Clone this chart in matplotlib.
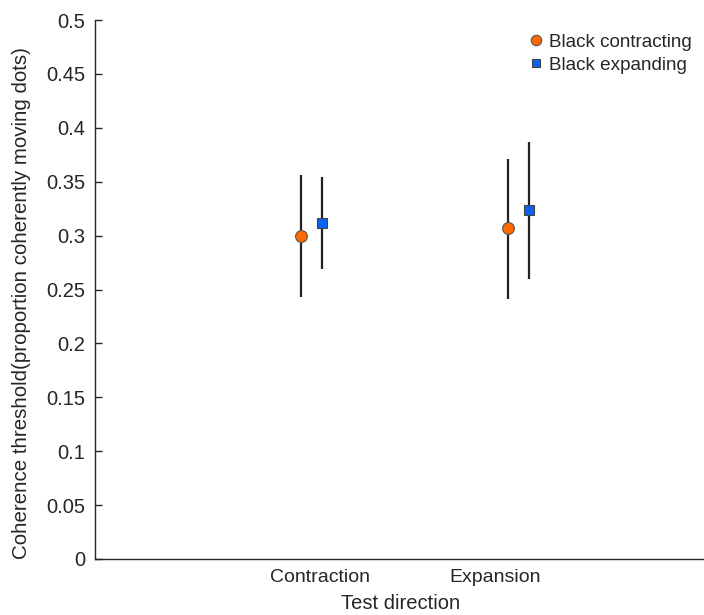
import matplotlib.pyplot as plt
from matplotlib.lines import Line2D

plt.rcParams['font.family'] = ['Liberation Sans', 'DejaVu Sans']

# ------------------------
# Data
# ------------------------
categories = ["Contraction", "Expansion"]
tick_pos = [1, 2]

contract_x = [0.89, 2.07]
contract_mean = [0.300, 0.307]
contract_lo = [0.243, 0.241]
contract_hi = [0.356, 0.371]

expand_x = [1.01, 2.19]
expand_mean = [0.312, 0.324]
expand_lo = [0.269, 0.260]
expand_hi = [0.354, 0.387]

yticks = [0, 0.05, 0.1, 0.15, 0.2, 0.25, 0.3, 0.35, 0.4, 0.45, 0.5]
ytick_labels = ["0", "0.05", "0.1", "0.15", "0.2", "0.25", "0.3", "0.35", "0.4", "0.45", "0.5"]

# ------------------------
# Plot
# ------------------------
fig = plt.figure(figsize=(7.04, 6.15), dpi=100)
ax = fig.add_axes([95 / 704, 1 - 559 / 615, 1 - 95 / 704 + 0.002, 539 / 615])

axis_col = "#262626"
orange = "#FF6A00"
blue = "#0A64F0"


def err(mean, lo, hi):
    return [[m - l for m, l in zip(mean, lo)], [h - m for m, h in zip(mean, hi)]]


ax.errorbar(contract_x, contract_mean, yerr=err(contract_mean, contract_lo, contract_hi),
            fmt="o", color=orange, markersize=8.5, markeredgecolor="#555555",
            markeredgewidth=0.8, ecolor="#222222", elinewidth=1.6, capsize=0, zorder=3)
ax.errorbar(expand_x, expand_mean, yerr=err(expand_mean, expand_lo, expand_hi),
            fmt="s", color=blue, markersize=7.5, markeredgecolor="#444444",
            markeredgewidth=0.8, ecolor="#222222", elinewidth=1.6, capsize=0, zorder=3)

ax.set_xlim(-0.286, 3.2)
ax.set_ylim(0, 0.5)
ax.set_xticks(tick_pos)
ax.set_xticklabels(categories)
ax.set_yticks(yticks)
ax.set_yticklabels(ytick_labels)

ax.spines["top"].set_visible(False)
ax.spines["right"].set_visible(False)
for s in ("left", "bottom"):
    ax.spines[s].set_color(axis_col)
    ax.spines[s].set_linewidth(1.0)

ax.tick_params(axis="y", direction="in", length=5, width=1.0, color=axis_col,
               labelsize=14.5, labelcolor=axis_col, pad=7)
ax.tick_params(axis="x", direction="in", length=0, labelsize=14,
               labelcolor=axis_col, pad=7)

ax.set_xlabel("Test direction", fontsize=14.5, color=axis_col, labelpad=6)
ax.set_ylabel("Coherence threshold(proportion coherently moving dots)",
              fontsize=14.8, color=axis_col, labelpad=8)
ax.yaxis.set_label_coords(-0.105, 0.475)

handles = [
    Line2D([], [], linestyle="none", marker="o", markersize=7.5, color=orange,
           markeredgecolor="#555555", markeredgewidth=0.8),
    Line2D([], [], linestyle="none", marker="s", markersize=6, color=blue,
           markeredgecolor="#444444", markeredgewidth=0.8),
]
leg = ax.legend(handles, ["Black contracting", "Black expanding"],
                loc="upper right", bbox_to_anchor=(1.0, 1.0), frameon=False,
                fontsize=13.6, handletextpad=0.25, labelspacing=0.32,
                borderaxespad=0.32, handlelength=0.9)
for t in leg.get_texts():
    t.set_color(axis_col)

fig.savefig("out.png", dpi=100)
